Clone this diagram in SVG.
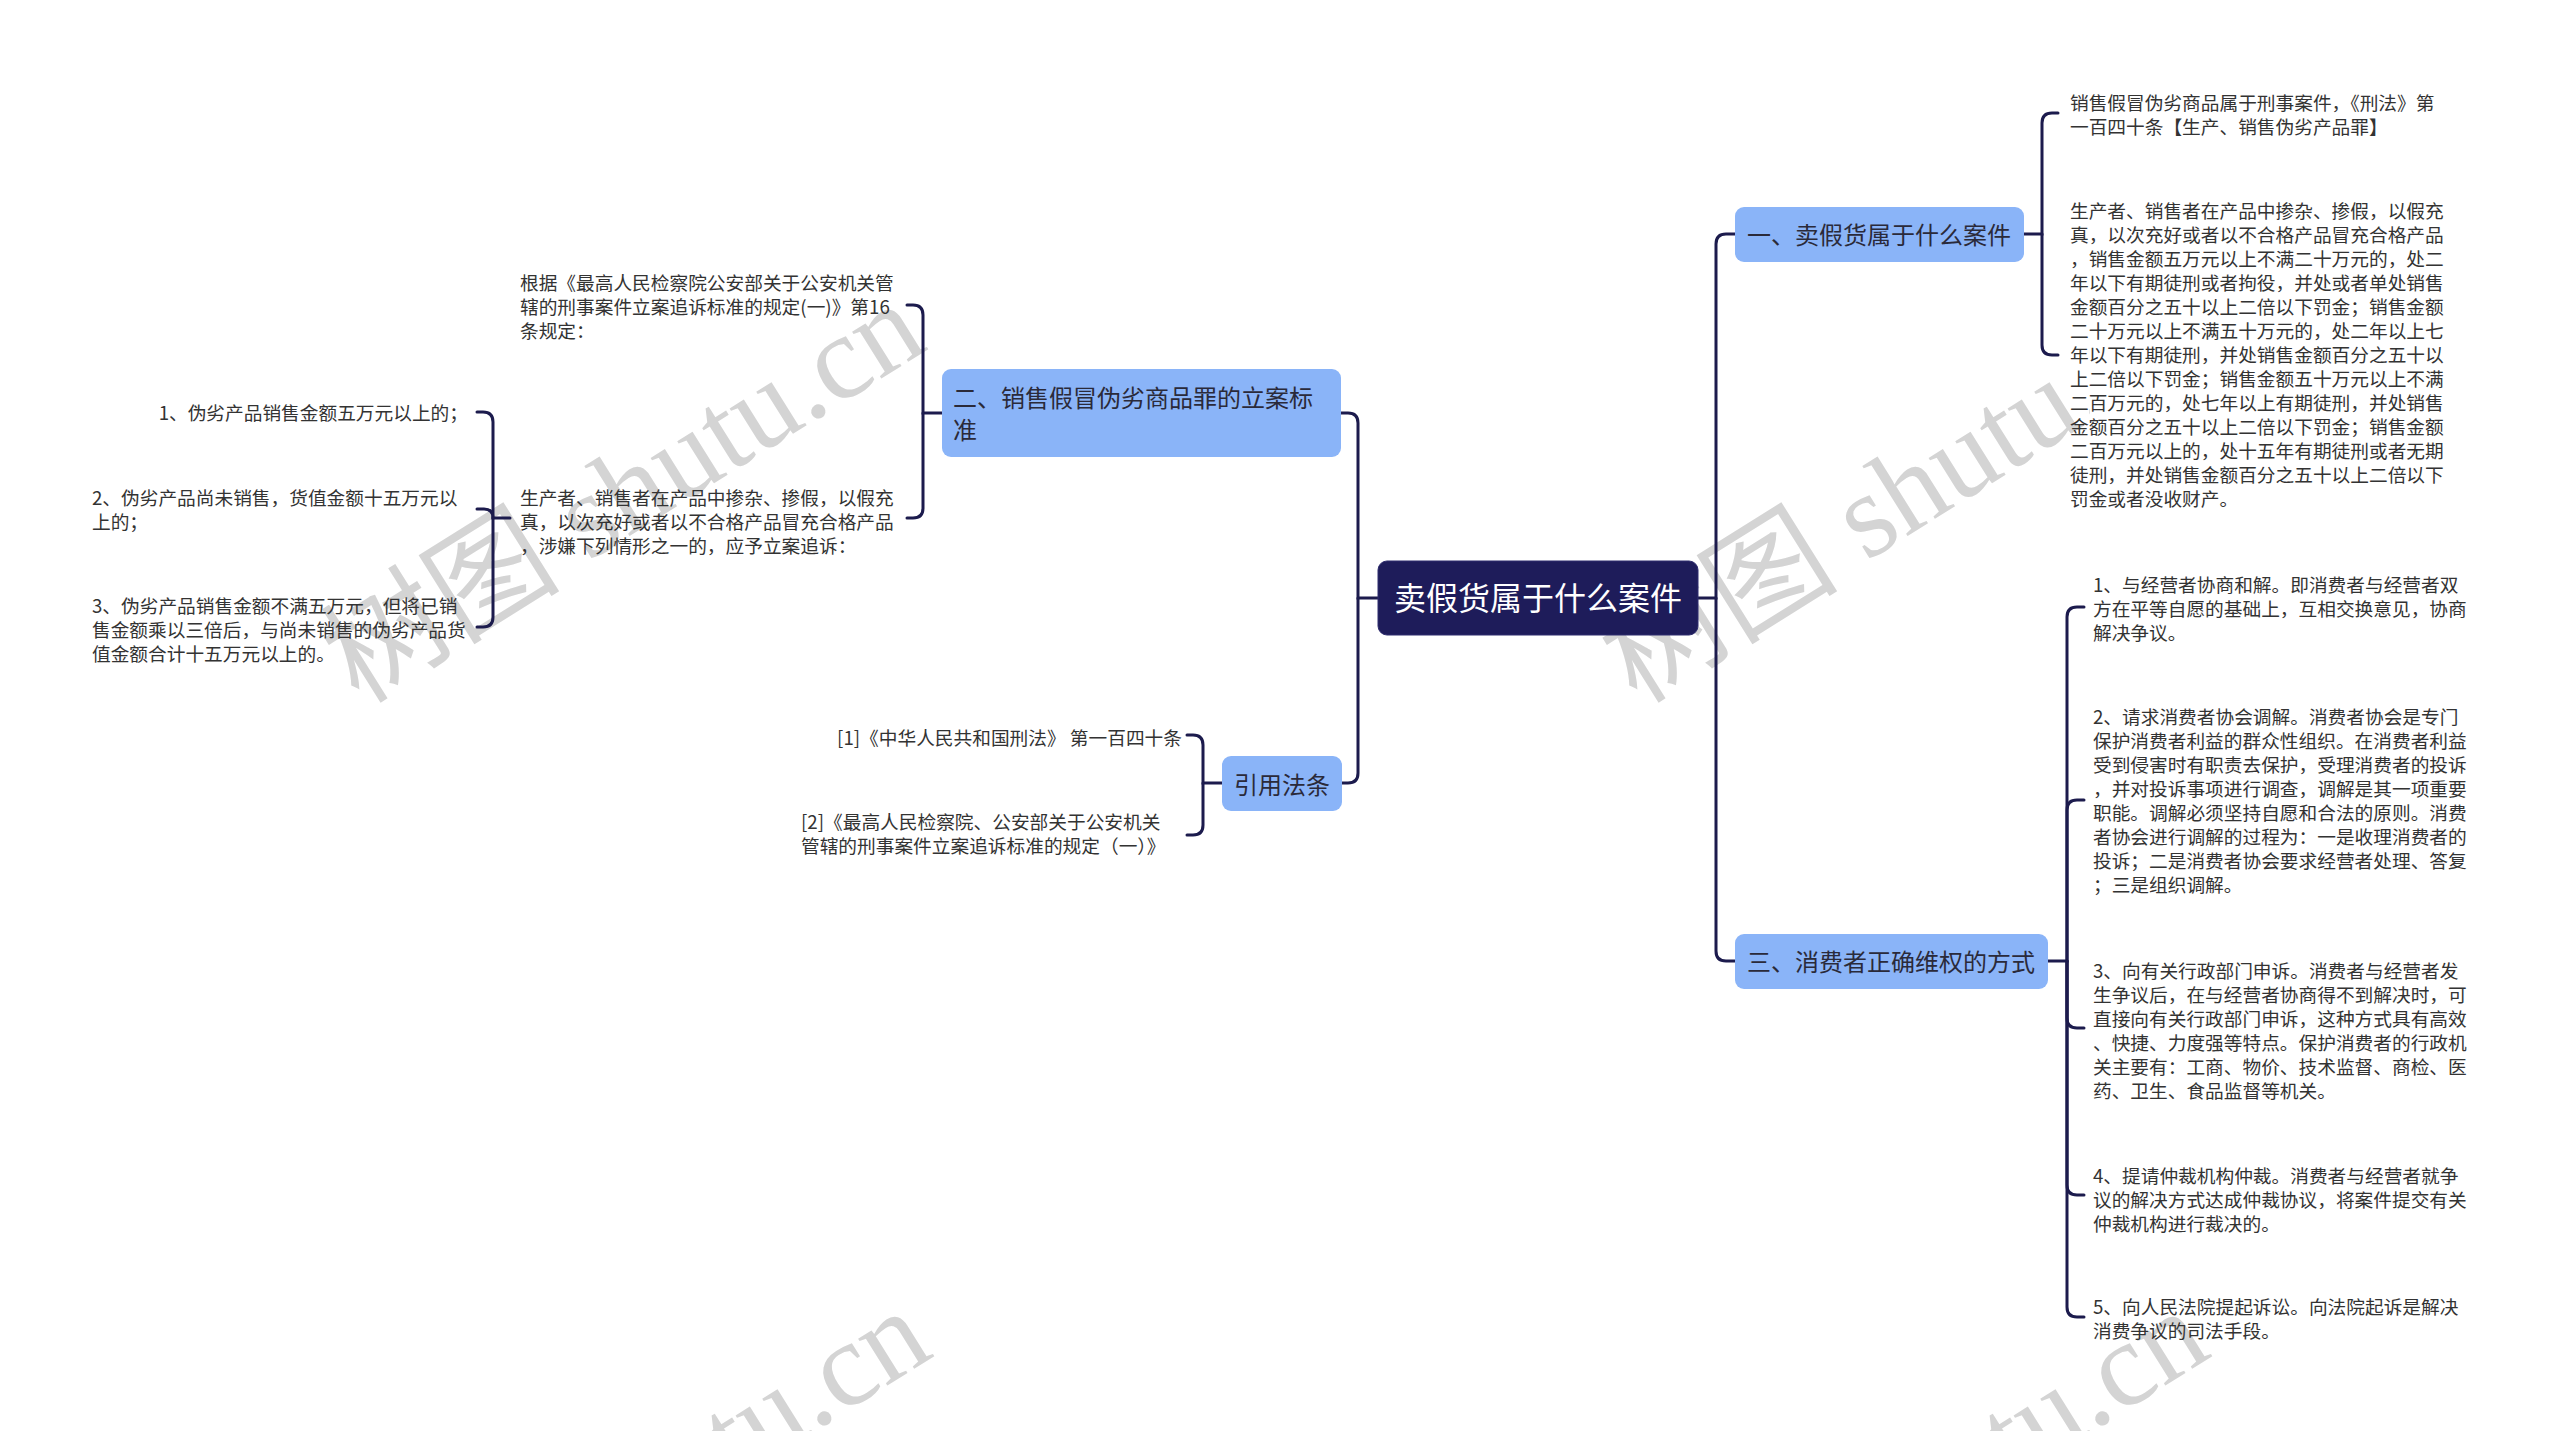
<svg xmlns="http://www.w3.org/2000/svg" width="2560" height="1431" viewBox="0 0 2560 1431">
<style>
.wm{font-family:"Liberation Serif","Noto Sans CJK SC",serif;font-size:120px;fill:#d4d4d4;}
.conn{fill:none;stroke:#1c1b4d;stroke-width:3;stroke-linecap:round;}
.root{fill:#1e1c5a;stroke:#2e2c6e;stroke-width:1;}
.rootT{font-family:"Noto Sans CJK SC",sans-serif;font-size:32px;fill:#ffffff;}
.br{fill:#8ab4f8;}
.brT{font-family:"Noto Sans CJK SC",sans-serif;font-size:24px;fill:#2a2a3a;}
.leaf{font-family:"Noto Sans CJK SC",sans-serif;font-size:18.7px;fill:#333333;}
</style>
<defs>
<clipPath id="wm2clip"><rect x="1500" y="0" width="590" height="1431"/></clipPath>
</defs>
<rect width="2560" height="1431" fill="#ffffff"/>
<g id="watermarks">
<text class="wm" transform="translate(359,705) rotate(-32)">树图 shutu.cn</text>
<text class="wm" transform="translate(365,1712) rotate(-32)">树图 shutu.cn</text>
<g clip-path="url(#wm2clip)"><text class="wm" transform="translate(1637,705) rotate(-32)">树图 shutu.cn</text></g>
<text class="wm" transform="translate(1643,1712) rotate(-32)">树图 shutu.cn</text>
</g>
<g id="connectors">
<path class="conn" d="M1698 598 H1716 V244 Q1716 234 1726 234 H1735"/>
<path class="conn" d="M1716 598 V951 Q1716 961 1726 961 H1735"/>
<path class="conn" d="M2024 234 H2042 V123 Q2042 113 2052 113 H2058"/>
<path class="conn" d="M2042 234 V345 Q2042 355 2052 355 H2058"/>
<path class="conn" d="M2048 961 H2067 V617 Q2067 607 2077 607 H2084"/>
<path class="conn" d="M2067 961 V810 Q2067 800 2077 800 H2084"/>
<path class="conn" d="M2067 961 V1018 Q2067 1028 2077 1028 H2084"/>
<path class="conn" d="M2067 961 V1185 Q2067 1195 2077 1195 H2084"/>
<path class="conn" d="M2067 961 V1307 Q2067 1317 2077 1317 H2084"/>
<path class="conn" d="M1378 598 H1358 V423 Q1358 413 1348 413 H1341"/>
<path class="conn" d="M1358 598 V773 Q1358 783 1348 783 H1342"/>
<path class="conn" d="M942 413 H923 V315 Q923 305 913 305 H907"/>
<path class="conn" d="M923 413 V508 Q923 518 913 518 H907"/>
<path class="conn" d="M510 518 H493 V422 Q493 412 483 412 H477"/>
<path class="conn" d="M493 518 Q493 509 484 509 H477"/>
<path class="conn" d="M493 518 V617 Q493 627 483 627 H477"/>
<path class="conn" d="M1222 783 H1203 V745 Q1203 735 1193 735 H1187"/>
<path class="conn" d="M1203 783 V825 Q1203 835 1193 835 H1187"/>
</g>
<g id="root">
<rect class="root" x="1378" y="561" width="320" height="74" rx="9"/>
<text class="rootT" x="1538" y="610" text-anchor="middle">卖假货属于什么案件</text>
</g>
<g id="b1">
<rect class="br" x="1735" y="207" width="289" height="55" rx="9"/>
<text class="brT" x="1747" y="244">一、卖假货属于什么案件</text>
</g>
<g id="b3">
<rect class="br" x="1735" y="934" width="313" height="55" rx="9"/>
<text class="brT" x="1747" y="971">三、消费者正确维权的方式</text>
</g>
<g id="b2">
<rect class="br" x="942" y="369" width="399" height="88" rx="9"/>
<text class="brT" x="953" y="407">二、销售假冒伪劣商品罪的立案标<tspan x="953" dy="32">准</tspan></text>
</g>
<g id="b4">
<rect class="br" x="1222" y="756" width="120" height="55" rx="9"/>
<text class="brT" x="1282" y="794" text-anchor="middle">引用法条</text>
</g>
<g id="leaf1a">
<text class="leaf" x="2070" y="110">销售假冒伪劣商品属于刑事案件，《刑法》第<tspan x="2070" dy="24">一百四十条【生产、销售伪劣产品罪】</tspan></text>
</g>
<g id="leaf1b">
<text class="leaf" x="2070" y="218">生产者、销售者在产品中掺杂、掺假，以假充<tspan x="2070" dy="24">真，以次充好或者以不合格产品冒充合格产品</tspan><tspan x="2070" dy="24">，销售金额五万元以上不满二十万元的，处二</tspan><tspan x="2070" dy="24">年以下有期徒刑或者拘役，并处或者单处销售</tspan><tspan x="2070" dy="24">金额百分之五十以上二倍以下罚金；销售金额</tspan><tspan x="2070" dy="24">二十万元以上不满五十万元的，处二年以上七</tspan><tspan x="2070" dy="24">年以下有期徒刑，并处销售金额百分之五十以</tspan><tspan x="2070" dy="24">上二倍以下罚金；销售金额五十万元以上不满</tspan><tspan x="2070" dy="24">二百万元的，处七年以上有期徒刑，并处销售</tspan><tspan x="2070" dy="24">金额百分之五十以上二倍以下罚金；销售金额</tspan><tspan x="2070" dy="24">二百万元以上的，处十五年有期徒刑或者无期</tspan><tspan x="2070" dy="24">徒刑，并处销售金额百分之五十以上二倍以下</tspan><tspan x="2070" dy="24">罚金或者没收财产。</tspan></text>
</g>
<g id="leaf3a">
<text class="leaf" x="2093" y="592">1、与经营者协商和解。即消费者与经营者双<tspan x="2093" dy="24">方在平等自愿的基础上，互相交换意见，协商</tspan><tspan x="2093" dy="24">解决争议。</tspan></text>
</g>
<g id="leaf3b">
<text class="leaf" x="2093" y="724">2、请求消费者协会调解。消费者协会是专门<tspan x="2093" dy="24">保护消费者利益的群众性组织。在消费者利益</tspan><tspan x="2093" dy="24">受到侵害时有职责去保护，受理消费者的投诉</tspan><tspan x="2093" dy="24">，并对投诉事项进行调查，调解是其一项重要</tspan><tspan x="2093" dy="24">职能。调解必须坚持自愿和合法的原则。消费</tspan><tspan x="2093" dy="24">者协会进行调解的过程为：一是收理消费者的</tspan><tspan x="2093" dy="24">投诉；二是消费者协会要求经营者处理、答复</tspan><tspan x="2093" dy="24">；三是组织调解。</tspan></text>
</g>
<g id="leaf3c">
<text class="leaf" x="2093" y="978">3、向有关行政部门申诉。消费者与经营者发<tspan x="2093" dy="24">生争议后，在与经营者协商得不到解决时，可</tspan><tspan x="2093" dy="24">直接向有关行政部门申诉，这种方式具有高效</tspan><tspan x="2093" dy="24">、快捷、力度强等特点。保护消费者的行政机</tspan><tspan x="2093" dy="24">关主要有：工商、物价、技术监督、商检、医</tspan><tspan x="2093" dy="24">药、卫生、食品监督等机关。</tspan></text>
</g>
<g id="leaf3d">
<text class="leaf" x="2093" y="1183">4、提请仲裁机构仲裁。消费者与经营者就争<tspan x="2093" dy="24">议的解决方式达成仲裁协议，将案件提交有关</tspan><tspan x="2093" dy="24">仲裁机构进行裁决的。</tspan></text>
</g>
<g id="leaf3e">
<text class="leaf" x="2093" y="1314">5、向人民法院提起诉讼。向法院起诉是解决<tspan x="2093" dy="24">消费争议的司法手段。</tspan></text>
</g>
<g id="leaf2a">
<text class="leaf" x="520" y="290">根据《最高人民检察院公安部关于公安机关管<tspan x="520" dy="24">辖的刑事案件立案追诉标准的规定(一)》第16</tspan><tspan x="520" dy="24">条规定：</tspan></text>
</g>
<g id="leaf2b">
<text class="leaf" x="520" y="505">生产者、销售者在产品中掺杂、掺假，以假充<tspan x="520" dy="24">真，以次充好或者以不合格产品冒充合格产品</tspan><tspan x="520" dy="24">，涉嫌下列情形之一的，应予立案追诉：</tspan></text>
</g>
<g id="item1">
<text class="leaf" x="468" y="420" text-anchor="end">1、伪劣产品销售金额五万元以上的；</text>
</g>
<g id="item2">
<text class="leaf" x="92" y="505">2、伪劣产品尚未销售，货值金额十五万元以<tspan x="92" dy="24">上的；</tspan></text>
</g>
<g id="item3">
<text class="leaf" x="92" y="613">3、伪劣产品销售金额不满五万元，但将已销<tspan x="92" dy="24">售金额乘以三倍后，与尚未销售的伪劣产品货</tspan><tspan x="92" dy="24">值金额合计十五万元以上的。</tspan></text>
</g>
<g id="ref1">
<text class="leaf" x="1182" y="745" text-anchor="end">[1]《中华人民共和国刑法》 第一百四十条</text>
</g>
<g id="ref2">
<text class="leaf" x="801" y="829">[2]《最高人民检察院、公安部关于公安机关<tspan x="801" dy="24">管辖的刑事案件立案追诉标准的规定（一）》</tspan></text>
</g>
</svg>
